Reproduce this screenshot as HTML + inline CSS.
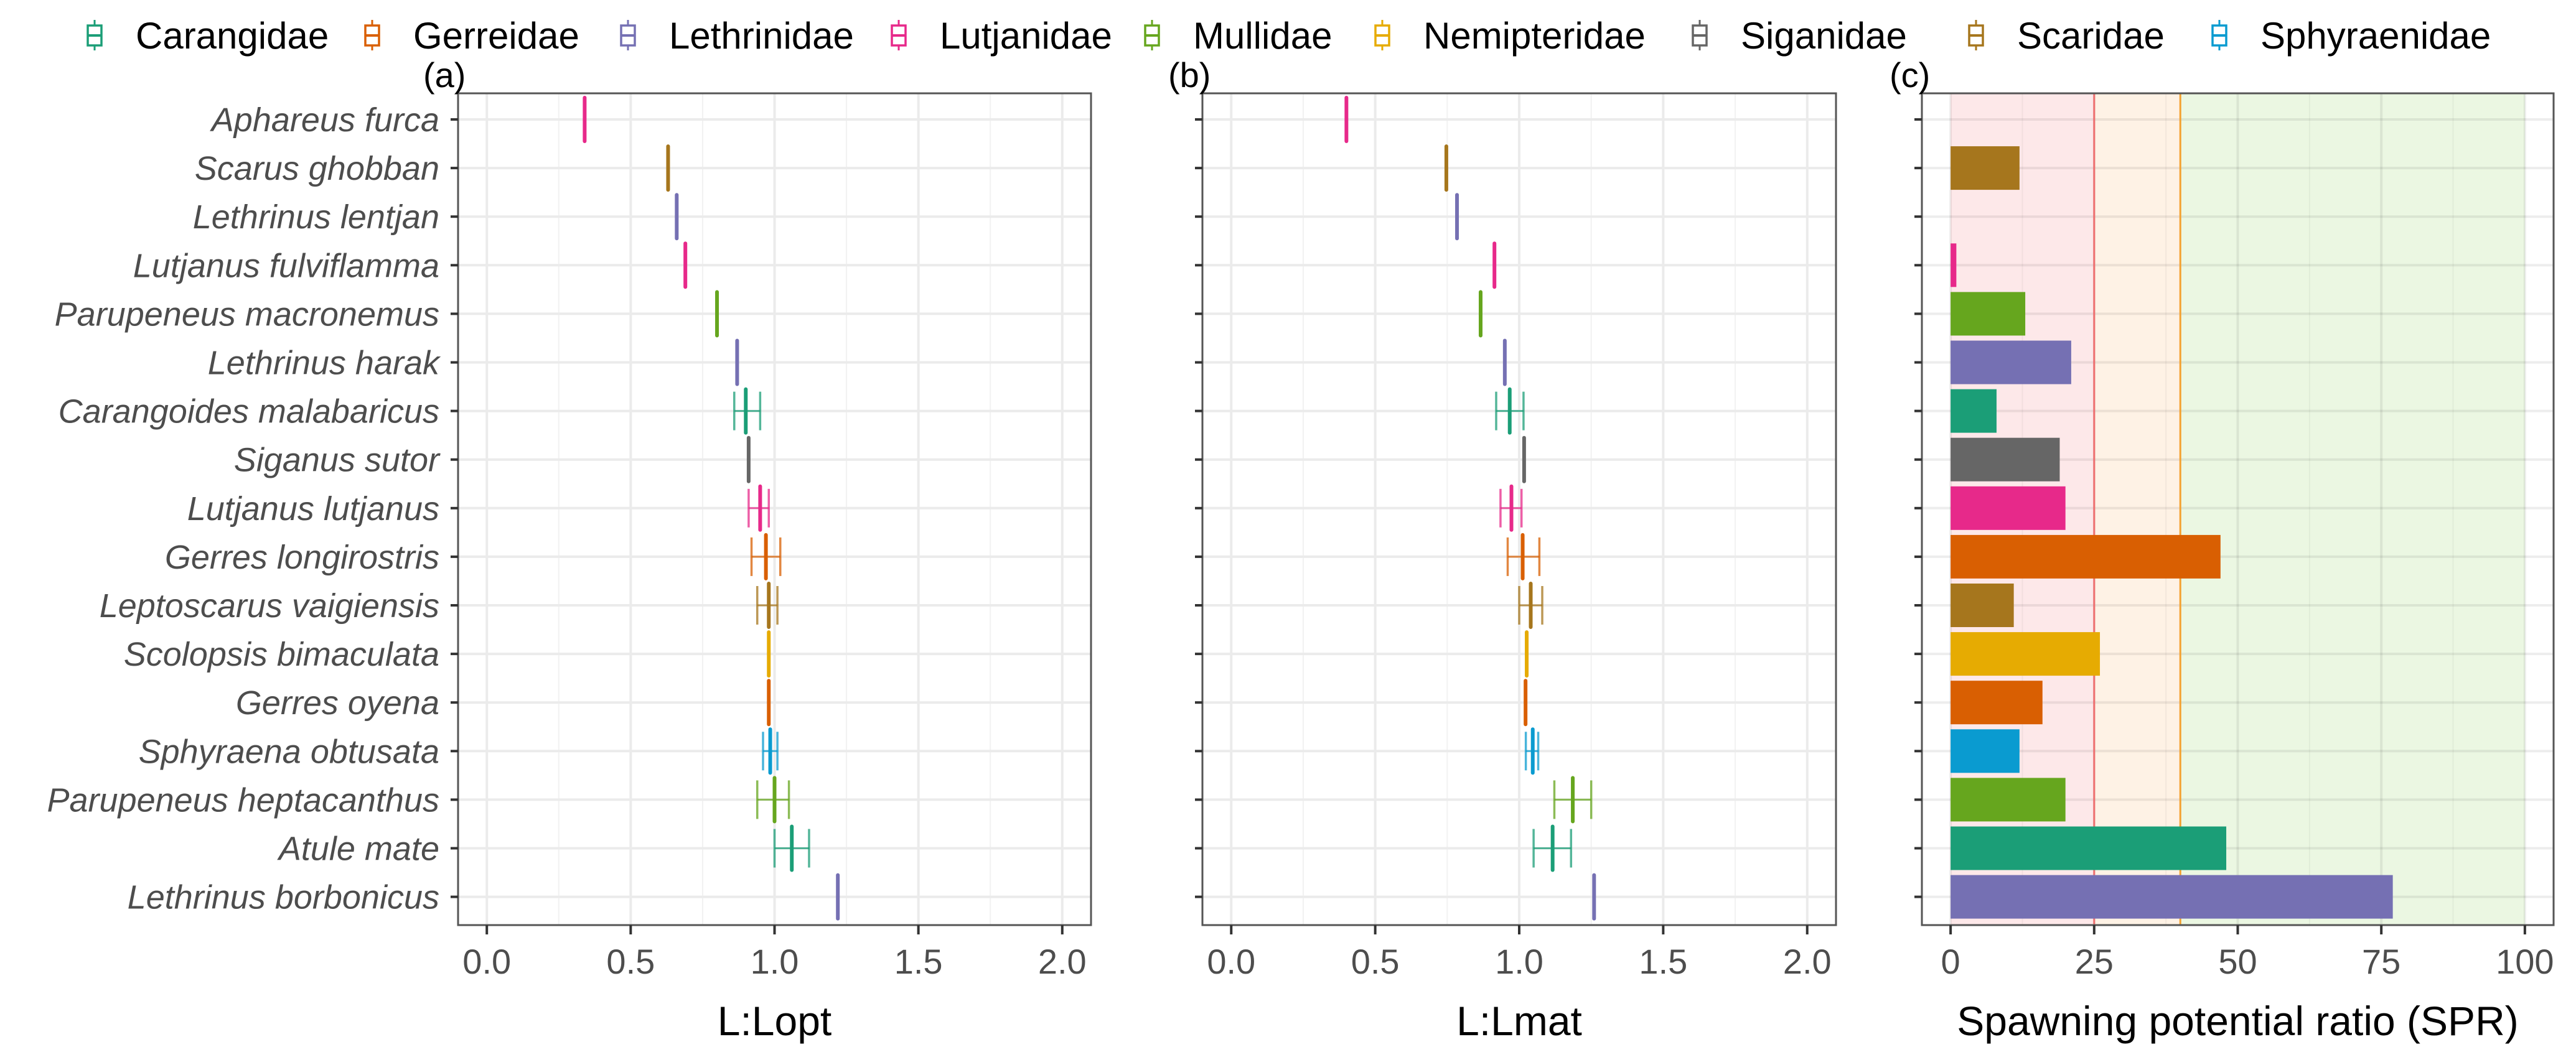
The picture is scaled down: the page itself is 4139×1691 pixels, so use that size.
<!DOCTYPE html>
<html><head><meta charset="utf-8"><style>
html,body{margin:0;padding:0;background:#fff;}
svg{display:block;font-family:"Liberation Sans",Arial,sans-serif;}
</style></head><body>
<svg id="chart" width="4139" height="1691" viewBox="0 0 4139 1691" xmlns="http://www.w3.org/2000/svg">
<g id="legend"></g>
<g id="panelA"></g>
<g id="panelB"></g>
<g id="panelC"></g>
</svg>
<script>
const species = ["Aphareus furca","Scarus ghobban","Lethrinus lentjan","Lutjanus fulviflamma","Parupeneus macronemus","Lethrinus harak","Carangoides malabaricus","Siganus sutor","Lutjanus lutjanus","Gerres longirostris","Leptoscarus vaigiensis","Scolopsis bimaculata","Gerres oyena","Sphyraena obtusata","Parupeneus heptacanthus","Atule mate","Lethrinus borbonicus"];
const family = ["Lutjanidae","Scaridae","Lethrinidae","Lutjanidae","Mullidae","Lethrinidae","Carangidae","Siganidae","Lutjanidae","Gerreidae","Scaridae","Nemipteridae","Gerreidae","Sphyraenidae","Mullidae","Carangidae","Lethrinidae"];
const aLow = [0.34,0.63,0.66,0.69,0.80,0.87,0.86,0.91,0.91,0.92,0.94,0.98,0.98,0.96,0.94,1.00,1.22];
const aMid = [0.34,0.63,0.66,0.69,0.80,0.87,0.90,0.91,0.95,0.97,0.98,0.98,0.98,0.985,1.00,1.06,1.22];
const aHigh = [0.34,0.63,0.66,0.69,0.80,0.87,0.95,0.91,0.98,1.02,1.01,0.98,0.98,1.01,1.05,1.12,1.22];
const bLow = [0.40,0.747,0.784,0.914,0.866,0.95,0.92,1.017,0.935,0.96,1.00,1.026,1.022,1.023,1.122,1.05,1.26];
const bMid = [0.40,0.747,0.784,0.914,0.866,0.95,0.967,1.017,0.973,1.012,1.04,1.026,1.022,1.047,1.186,1.116,1.26];
const bHigh = [0.40,0.747,0.784,0.914,0.866,0.95,1.015,1.017,1.008,1.07,1.08,1.026,1.022,1.066,1.25,1.18,1.26];
const spr = [null,12,null,1,13,21,8,19,20,47,11,26,16,12,20,48,77];
const families = ["Carangidae","Gerreidae","Lethrinidae","Lutjanidae","Mullidae","Nemipteridae","Siganidae","Scaridae","Sphyraenidae"];
const familyColors = ["#1b9e77","#d95f02","#7570b3","#e7298a","#66a61e","#e6ab02","#666666","#a6761d","#0a9bd0"];
const lenTicks = [0,0.5,1,1.5,2];
const lenTickLabels = ["0.0","0.5","1.0","1.5","2.0"];
const sprTicks = [0,25,50,75,100];
const sprTickLabels = ["0","25","50","75","100"];
const sprZones = [0,25,40,100];

const NS="http://www.w3.org/2000/svg";
function mk(parent,tag,attrs){const e=document.createElementNS(NS,tag);for(const k in attrs)e.setAttribute(k,attrs[k]);parent.appendChild(e);return e;}
function colorOf(f){return familyColors[families.indexOf(f)];}
const TOP=150,BOT=1487,ROW0=192,ROWSTEP=78.1;
function yPos(i){return ROW0+i*ROWSTEP;}
function linScale(d0,d1,r0,r1){return v=>r0+(v-d0)/(d1-d0)*(r1-r0);}

// Legend
const lg=document.getElementById('legend');
const legIconX=[152,598,1009,1444,1851,2221,2731,3175,3566];
families.forEach((f,i)=>{
  const g=mk(lg,'g',{});
  
  
  const cx=legIconX[i],c=familyColors[i];
  mk(g,'line',{x1:cx,x2:cx,y1:32,y2:81,stroke:c,'stroke-width':3});
  mk(g,'rect',{x:cx-11,y:41,width:22,height:32,fill:'#fff',stroke:c,'stroke-width':3.5});
  mk(g,'line',{x1:cx-11,x2:cx+11,y1:57,y2:57,stroke:c,'stroke-width':4});
  const t=mk(g,'text',{x:cx+66,y:78,'font-size':60,fill:'#000'});t.textContent=f;
});

function drawFrame(g,x0,x1){
  mk(g,'rect',{x:x0,y:TOP,width:x1-x0,height:BOT-TOP,fill:'#fff'});
}
function drawGrid(g,x0,x1,sx,majors,minors,col,colMinor){
  minors.forEach(v=>mk(g,'line',{x1:sx(v),x2:sx(v),y1:TOP,y2:BOT,stroke:colMinor,'stroke-width':2}));
  majors.forEach(v=>mk(g,'line',{x1:sx(v),x2:sx(v),y1:TOP,y2:BOT,stroke:col,'stroke-width':4}));
  species.forEach((s,i)=>mk(g,'line',{x1:x0,x2:x1,y1:yPos(i),y2:yPos(i),stroke:col,'stroke-width':4}));
}
function drawAxes(g,x0,x1,sx,ticks,labels,title,withNames){
  mk(g,'rect',{x:x0,y:TOP,width:x1-x0,height:BOT-TOP,fill:'none',stroke:'#555','stroke-width':3});
  ticks.forEach((v,i)=>{
    mk(g,'line',{x1:sx(v),x2:sx(v),y1:BOT,y2:BOT+15,stroke:'#333','stroke-width':4});
    const t=mk(g,'text',{x:sx(v),y:1565,'font-size':56,fill:'#4d4d4d','text-anchor':'middle'});
    
    
    t.textContent=labels[i];
  });
  species.forEach((s,i)=>{
    mk(g,'line',{x1:x0-12,x2:x0,y1:yPos(i),y2:yPos(i),stroke:'#333','stroke-width':4});
    if(withNames){
      const t=mk(g,'text',{x:x0-30,y:yPos(i)+19,'font-size':54,fill:'#4d4d4d','text-anchor':'end','font-style':'italic'});
      
      
      t.textContent=s;
    }
  });
  const tt=mk(g,'text',{x:(x0+x1)/2,y:1664,'font-size':66,fill:'#000','text-anchor':'middle'});
  
  
  tt.textContent=title;
}
function drawBoxes(g,sx,lo,mid,hi){
  species.forEach((s,i)=>{
    const c=colorOf(family[i]),y=yPos(i);
    const bg=mk(g,'g',{});
    
    
    if(hi[i]-lo[i]>0.001){
      mk(bg,'line',{x1:sx(lo[i]),x2:sx(hi[i]),y1:y,y2:y,stroke:c,'stroke-width':3,opacity:0.75});
      mk(bg,'line',{x1:sx(lo[i]),x2:sx(lo[i]),y1:y-31,y2:y+31,stroke:c,'stroke-width':3.5,opacity:0.75});
      mk(bg,'line',{x1:sx(hi[i]),x2:sx(hi[i]),y1:y-31,y2:y+31,stroke:c,'stroke-width':3.5,opacity:0.75});
    }
    mk(bg,'line',{x1:sx(mid[i]),x2:sx(mid[i]),y1:y-35,y2:y+35,stroke:c,'stroke-width':6,'stroke-linecap':'round'});
  });
}
function panelLabel(txt,x){
  const t=mk(document.getElementById('chart'),'text',{x:x,y:140,'font-size':56,fill:'#000'});
  
  
  t.textContent=txt;
}

(function(){
  const g=document.getElementById('panelA');const x0=736,x1=1753;
  const sx=linScale(-0.1,2.1,x0,x1);
  drawFrame(g,x0,x1);
  drawGrid(g,x0,x1,sx,lenTicks,[0.25,0.75,1.25,1.75],'#ebebeb','#f2f2f2');
  drawBoxes(g,sx,aLow,aMid,aHigh);
  drawAxes(g,x0,x1,sx,lenTicks,lenTickLabels,'L:Lopt',true);
})();
(function(){
  const g=document.getElementById('panelB');const x0=1932,x1=2950;
  const sx=linScale(-0.1,2.1,x0,x1);
  drawFrame(g,x0,x1);
  drawGrid(g,x0,x1,sx,lenTicks,[0.25,0.75,1.25,1.75],'#ebebeb','#f2f2f2');
  drawBoxes(g,sx,bLow,bMid,bHigh);
  drawAxes(g,x0,x1,sx,lenTicks,lenTickLabels,'L:Lmat',false);
})();
(function(){
  const g=document.getElementById('panelC');const x0=3088,x1=4103;
  const sx=linScale(-5,105,x0,x1);
  drawFrame(g,x0,x1);
  const zoneCols=['#fde8e9','#fef2e5','#ebf7e2'];
  for(let z=0;z<3;z++){
    const r=mk(g,'rect',{x:sx(sprZones[z]),y:TOP,width:sx(sprZones[z+1])-sx(sprZones[z]),height:BOT-TOP,fill:zoneCols[z]});
    
    
  }
  drawGrid(g,x0,x1,sx,sprTicks,[12.5,37.5,62.5,87.5],'rgba(0,0,0,0.07)','rgba(0,0,0,0.045)');
  const rl=mk(g,'line',{x1:sx(sprZones[1]),x2:sx(sprZones[1]),y1:TOP,y2:BOT,stroke:'#f07070','stroke-width':3});
  
  
  const ol=mk(g,'line',{x1:sx(sprZones[2]),x2:sx(sprZones[2]),y1:TOP,y2:BOT,stroke:'#f4a12f','stroke-width':3});
  
  
  species.forEach((s,i)=>{
    if(spr[i]==null)return;
    const b=mk(g,'rect',{x:sx(0),y:yPos(i)-35,width:sx(spr[i])-sx(0),height:70,fill:colorOf(family[i])});
    
    
  });
  drawAxes(g,x0,x1,sx,sprTicks,sprTickLabels,'Spawning potential ratio (SPR)',false);
})();
panelLabel('(a)',680);
panelLabel('(b)',1877);
panelLabel('(c)',3036);
</script>
</body></html>
